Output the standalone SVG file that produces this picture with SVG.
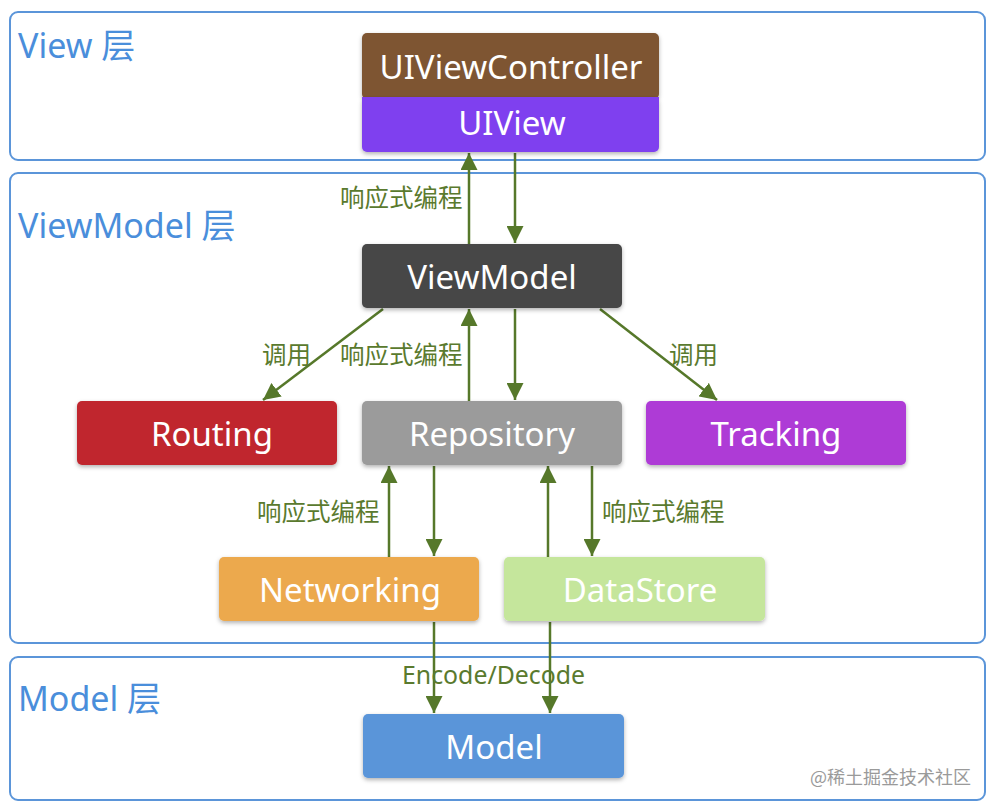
<svg xmlns="http://www.w3.org/2000/svg" width="992" height="810" viewBox="0 0 992 810">
<defs>
<style>
.layer{fill:none;stroke:#5b95d9;stroke-width:2}
.ltxt{font-family:"Noto Sans","Noto Sans CJK SC",sans-serif;font-size:34px;fill:#4a8edb}
.ntxt{font-family:"Noto Sans","Noto Sans CJK SC",sans-serif;font-size:33px;fill:#ffffff;text-anchor:middle;dominant-baseline:central}
.lbl{font-family:"Noto Sans","Noto Sans CJK SC",sans-serif;font-size:24.5px;fill:#5a7a2e}
.edge{stroke:#56782a;stroke-width:2.5;fill:none;marker-end:url(#ah)}
.wm{font-family:"Noto Sans CJK SC",sans-serif;font-size:18px;fill:#9a9a9a}
</style>
<marker id="ah" viewBox="0 0 10 10" refX="10" refY="5" markerWidth="17" markerHeight="17" markerUnits="userSpaceOnUse" orient="auto">
<path d="M0,0 L10,5 L0,10 z" fill="#56782a"/>
</marker>
<filter id="sh" x="-5%" y="-10%" width="110%" height="130%">
<feDropShadow dx="0" dy="2" stdDeviation="2" flood-color="#000" flood-opacity="0.3"/>
</filter>
</defs>
<rect width="992" height="810" fill="#ffffff"/>
<g id="layers">
<g id="layer-view"><rect class="layer" x="10" y="12" width="975" height="148" rx="8"/><text class="ltxt" x="18" y="58">View 层</text></g>
<g id="layer-viewmodel"><rect class="layer" x="10" y="173" width="975" height="470" rx="8"/><text class="ltxt" x="18" y="238">ViewModel 层</text></g>
<g id="layer-model"><rect class="layer" x="10" y="657" width="975" height="143" rx="8"/><text class="ltxt" x="18" y="711">Model 层</text></g>
</g>
<g id="connectors">
<line class="edge" x1="469" y1="244" x2="469" y2="153"/>
<line class="edge" x1="515" y1="153" x2="515" y2="243"/>
<line class="edge" x1="383" y1="309" x2="263" y2="400"/>
<line class="edge" x1="469" y1="401" x2="469" y2="309"/>
<line class="edge" x1="515" y1="309" x2="515" y2="400"/>
<line class="edge" x1="600" y1="309" x2="717" y2="400"/>
<line class="edge" x1="389" y1="557" x2="389" y2="466"/>
<line class="edge" x1="434" y1="466" x2="434" y2="556"/>
<line class="edge" x1="548" y1="557" x2="548" y2="466"/>
<line class="edge" x1="592" y1="466" x2="592" y2="556"/>
<line class="edge" x1="434" y1="622" x2="434" y2="713"/>
<line class="edge" x1="550" y1="622" x2="550" y2="713"/>
<text class="lbl" x="340" y="207">响应式编程</text>
<text class="lbl" x="262" y="364">调用</text>
<text class="lbl" x="340" y="364">响应式编程</text>
<text class="lbl" x="669" y="364">调用</text>
<text class="lbl" x="257" y="521">响应式编程</text>
<text class="lbl" x="602" y="521">响应式编程</text>
<text class="lbl" x="402" y="684" textLength="183" lengthAdjust="spacingAndGlyphs">Encode/Decode</text>
</g>
<g id="node-uiviewcontroller"><rect x="362" y="33" width="297" height="66" rx="5" fill="#7e5431" filter="url(#sh)"/><text class="ntxt" x="511" y="66">UIViewController</text></g>
<g id="node-uiview"><rect x="362" y="97" width="297" height="55" rx="5" fill="#7f40ef" filter="url(#sh)"/><rect x="362" y="97" width="297" height="8" fill="#7f40ef"/><text class="ntxt" x="512" y="122">UIView</text></g>
<g id="node-viewmodel"><rect x="362" y="244" width="260" height="64" rx="5" fill="#464646" filter="url(#sh)"/><text class="ntxt" x="492" y="276">ViewModel</text></g>
<g id="node-routing"><rect x="77" y="401" width="260" height="64" rx="5" fill="#c0282e" filter="url(#sh)"/><text class="ntxt" x="212" y="433">Routing</text></g>
<g id="node-repository"><rect x="362" y="401" width="260" height="64" rx="5" fill="#9b9b9b" filter="url(#sh)"/><text class="ntxt" x="492" y="433">Repository</text></g>
<g id="node-tracking"><rect x="646" y="401" width="260" height="64" rx="5" fill="#ae3bd6" filter="url(#sh)"/><text class="ntxt" x="776" y="433">Tracking</text></g>
<g id="node-networking"><rect x="219" y="557" width="260" height="64" rx="5" fill="#eca94e" filter="url(#sh)"/><text class="ntxt" x="350" y="589">Networking</text></g>
<g id="node-datastore"><rect x="504" y="557" width="261" height="64" rx="5" fill="#c5e69c" filter="url(#sh)"/><text class="ntxt" x="640" y="589">DataStore</text></g>
<g id="node-model"><rect x="363" y="714" width="261" height="64" rx="5" fill="#5a95d9" filter="url(#sh)"/><text class="ntxt" x="494" y="746">Model</text></g>
<text class="wm" x="810" y="784">@稀土掘金技术社区</text>
</svg>
